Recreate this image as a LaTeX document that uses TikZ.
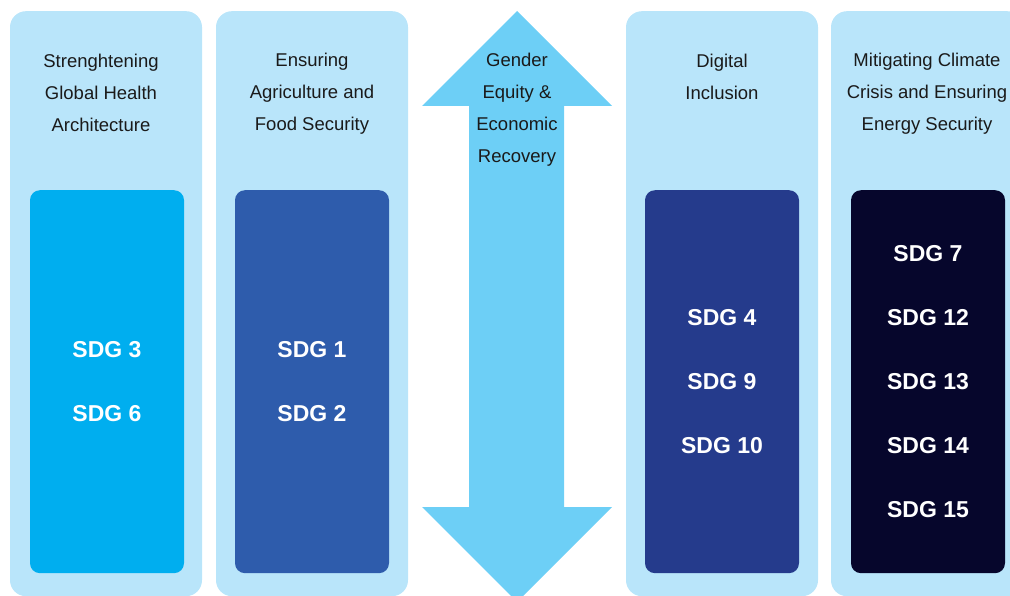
\documentclass[tikz,border=0pt]{standalone}
\usepackage{fontspec}
\setmainfont{Liberation Sans}
\usetikzlibrary{positioning}

\definecolor{pale}{HTML}{B9E5FA}
\definecolor{arrowblue}{HTML}{6DCFF6}
\definecolor{cyanbox}{HTML}{00AEEF}
\definecolor{midbox}{HTML}{2E5CAC}
\definecolor{deepbox}{HTML}{253B8C}
\definecolor{nightbox}{HTML}{06062C}
\definecolor{ink}{HTML}{1A1A1A}

\begin{document}
\begin{tikzpicture}[x=1pt,y=-1pt,
    column/.style={fill=pale,rounded corners=16pt,inner sep=0pt,anchor=north,
                   minimum width=192pt,minimum height=585pt},
    sdgbox/.style={rounded corners=10pt,inner sep=0pt,anchor=north,align=center,
                   minimum width=154pt,minimum height=383pt,text=white,
                   font=\bfseries\fontsize{23}{64}\selectfont},
    title/.style={align=center,text=ink,font=\fontsize{18.5}{32}\selectfont}]

  \useasboundingbox (0,0) rectangle (1010,596);
  \clip (0,0) rectangle (1010,596);

  % pale columns
  \node[column] (c1) at (106,11) {};
  \node[column] (c2) at (312,11) {};
  \node[column] (c4) at (722,11) {};
  \node[column] (c5) at (927,11) {};

  % double arrow in the middle
  \fill[arrowblue] (517,11) -- (612,106) -- (564,106) -- (564,507) -- (612,507)
    -- (517,602) -- (422,507) -- (469,507) -- (469,106) -- (422,106) -- cycle;

  % titles
  \node[title] (t1) at (101,93) {Strenghtening\\Global Health\\Architecture};
  \node[title] (t2) at (312,94) {Ensuring\\Agriculture and\\Food Security};
  \node[title] (t3) at (517,110) {Gender\\Equity \&\\Economic\\Recovery};
  \node[title] (t4) at (722,77) {Digital\\Inclusion};
  \node[title] (t5) at (927,94) {Mitigating Climate\\Crisis and Ensuring\\Energy Security};

  % SDG boxes
  \node[sdgbox,fill=cyanbox] (s1) at (107,190) {SDG 3\\SDG 6};
  \node[sdgbox,fill=midbox] (s2) at (312,190) {SDG 1\\SDG 2};
  \node[sdgbox,fill=deepbox] (s4) at (722,190) {SDG 4\\SDG 9\\SDG 10};
  \node[sdgbox,fill=nightbox] (s5) at (928,190) {SDG 7\\SDG 12\\SDG 13\\SDG 14\\SDG 15};
\end{tikzpicture}
\end{document}
